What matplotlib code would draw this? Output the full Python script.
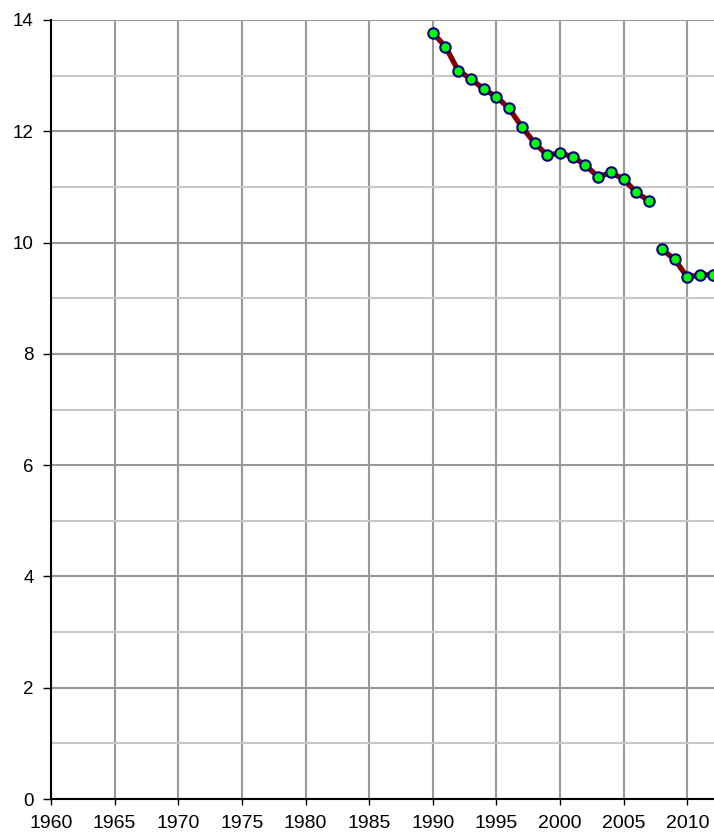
import numpy as np
import matplotlib.pyplot as plt
from matplotlib.ticker import MultipleLocator

# two runs of data, the series breaks between 2007 and 2008
years_a = [1990, 1991, 1992, 1993, 1994, 1995, 1996, 1997, 1998, 1999,
           2000, 2001, 2002, 2003, 2004, 2005, 2006, 2007]
values_a = [13.77, 13.52, 13.09, 12.94, 12.76, 12.62, 12.41, 12.08, 11.79, 11.57,
            11.61, 11.54, 11.39, 11.18, 11.26, 11.14, 10.90, 10.75]
years_b = [2008, 2009, 2010, 2011, 2012]
values_b = [9.88, 9.70, 9.38, 9.42, 9.42]

x_ticks = list(range(1960, 2011, 5))
y_ticks = [0, 2, 4, 6, 8, 10, 12, 14]

plt.rcParams['font.family'] = ['Liberation Sans', 'DejaVu Sans']

fig = plt.figure(figsize=(7.14, 8.36), dpi=100)
ax = fig.add_axes([51 / 714, 1 - 799 / 836, 1 - 51 / 714, (799 - 20) / 836])

ax.set_xlim(1960, 2012.1)
ax.set_ylim(0, 14)

ax.set_xticks(x_ticks)
ax.set_yticks(y_ticks)
ax.yaxis.set_minor_locator(MultipleLocator(1))

ax.grid(which='major', axis='both', color='#999999', linewidth=1.5)
ax.grid(which='minor', axis='y', color='#c8c8c8', linewidth=1.5)
ax.set_axisbelow(True)

for yrs, vals in [(years_a, values_a), (years_b, values_b)]:
    ax.plot(yrs, vals, color='#800000', linewidth=3.8, solid_capstyle='round',
            marker='o', markersize=7.5, markerfacecolor='#00ff00',
            markeredgecolor='#000080', markeredgewidth=1.5)

for s in ['top', 'right']:
    ax.spines[s].set_visible(False)
for s in ['left', 'bottom']:
    ax.spines[s].set_linewidth(1.5)
    ax.spines[s].set_color('black')

ax.tick_params(axis='x', which='major', length=4.5, width=1, color='black',
               labelsize=14, pad=7)
ax.tick_params(axis='y', which='major', length=5.5, width=1, color='black',
               labelsize=13.5, pad=7)
ax.tick_params(axis='both', which='minor', length=0)

fig.savefig('out.png', dpi=100)
